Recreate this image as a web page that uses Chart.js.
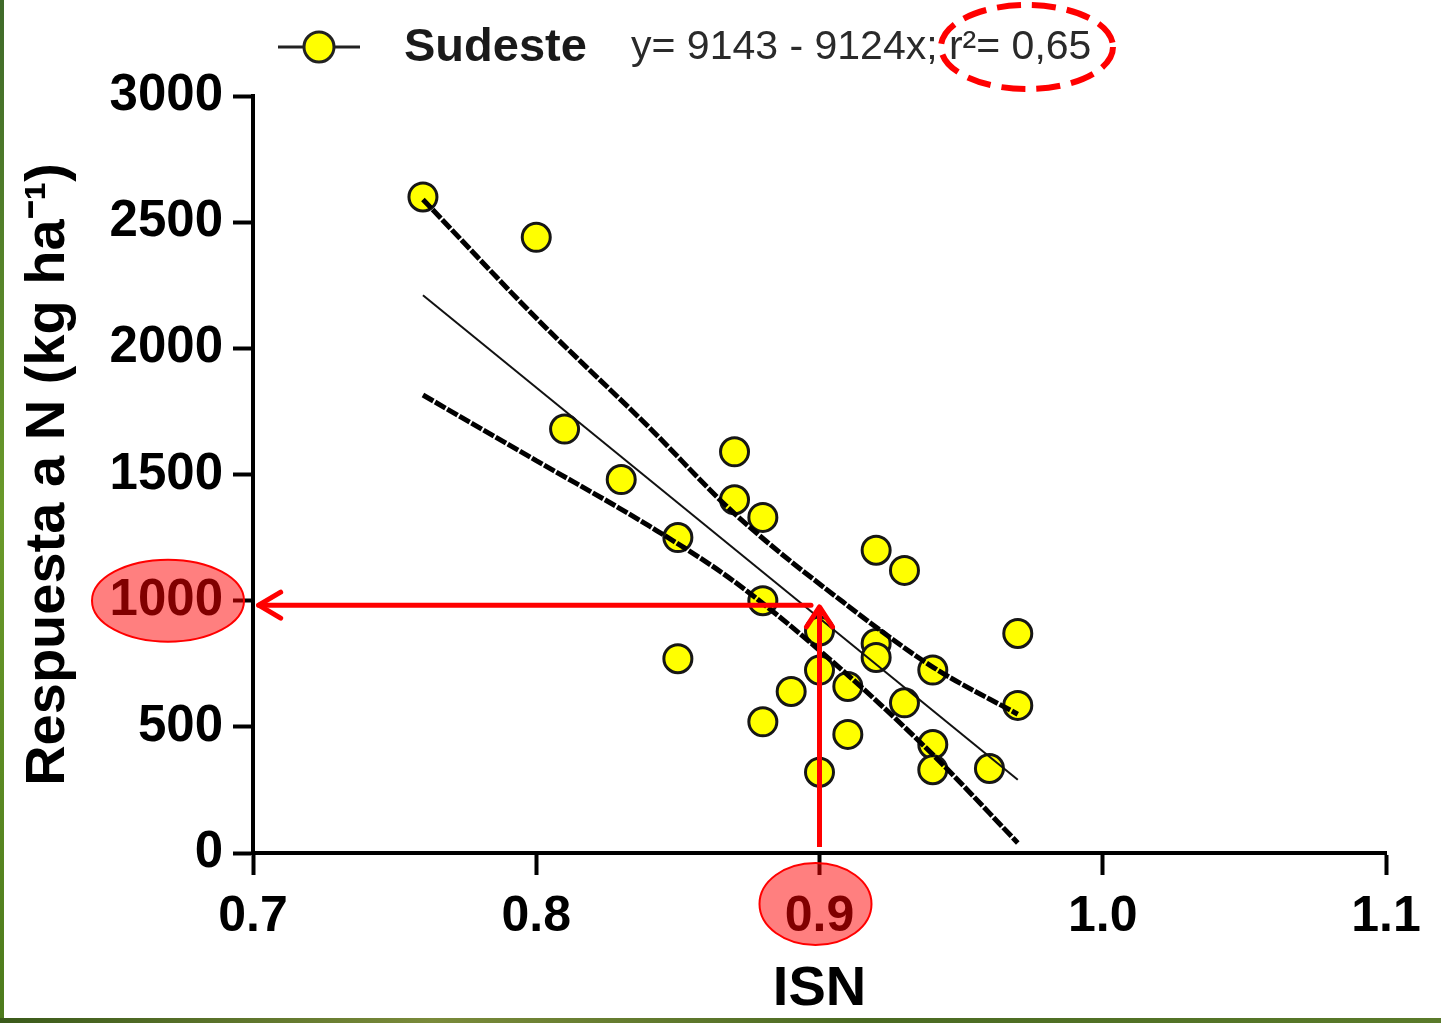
<!DOCTYPE html>
<html><head><meta charset="utf-8">
<script src="https://cdn.jsdelivr.net/npm/chart.js@4"></script>
<style>html,body{margin:0;padding:0;background:#fff;overflow:hidden}</style></head>
<body><canvas id="c" width="1441" height="1023"></canvas>
<script>
// ---- data ----
const isn = [0.76,0.80,0.81,0.83,0.85,0.85,0.87,0.87,0.88,0.88,0.88,0.89,0.90,0.90,0.90,0.91,0.91,0.92,0.92,0.92,0.93,0.93,0.94,0.94,0.94,0.96,0.97,0.97];
const respuesta = [2600,2440,1680,1480,1250,770,1590,1400,1330,1000,520,640,880,725,320,660,470,1200,830,775,1120,595,725,430,330,335,870,585];
const fitX = [0.76, 0.97];
const fitY = [2210, 290];
const bandX = [0.76,0.80,0.84,0.87,0.91,0.94,0.97];
const bandUpper = [2590,2120,1685,1345,980,737,550];
const bandLower = [1815,1555,1295,1075,705,390,40];
const xTicks = [0.7,0.8,0.9,1.0,1.1];
const yTicks = [0,500,1000,1500,2000,2500,3000];
const seriesName = 'Sudeste';
const equation = 'y= 9143 - 9124x; r\u00B2= 0,65';
const xTitle = 'ISN';
const yTitle = 'Respuesta a N (kg ha\u207B\u00B9)';
// red annotation (values in data units)
const markX = 0.9, markY = 1000;
const arrowH = {x0:0.897, x1:0.702, y:982};
const arrowV = {x:0.9, y0:24, y1:975};

const FONT = '"Liberation Sans", Arial, sans-serif';
const pts = isn.map((x,i)=>({x, y:respuesta[i]}));
const toXY = (xs, ys) => xs.map((x,i)=>({x, y:ys[i]}));

const decor = {
  id:'decor',
  beforeDraw(chart){
    const ctx = chart.ctx;
    ctx.save();
    ctx.fillStyle = '#fff';
    ctx.fillRect(0,0,chart.width,chart.height);
    const g = ctx.createLinearGradient(0,0,0,chart.height);
    g.addColorStop(0,'#3f6a2a'); g.addColorStop(0.5,'#6a9a2a'); g.addColorStop(1,'#4c7a1c');
    ctx.fillStyle = g;
    ctx.fillRect(0,0,4,chart.height);
    const g2 = ctx.createLinearGradient(0,0,chart.width,0);
    g2.addColorStop(0,'#3a5a1a'); g2.addColorStop(0.3,'#7a8a3a'); g2.addColorStop(0.6,'#4a6a22'); g2.addColorStop(1,'#5a7a2a');
    ctx.fillStyle = g2;
    ctx.fillRect(0,chart.height-5,chart.width,5);
    ctx.restore();
  },
  afterDraw(chart){
    const ctx = chart.ctx, xs = chart.scales.x, ys = chart.scales.y;
    ctx.save();
    // legend
    const ly = 47;
    ctx.strokeStyle = '#222'; ctx.lineWidth = 3;
    ctx.beginPath(); ctx.moveTo(278,ly); ctx.lineTo(360,ly); ctx.stroke();
    ctx.beginPath(); ctx.arc(319,ly,15,0,Math.PI*2);
    ctx.fillStyle = '#ffff00'; ctx.fill(); ctx.lineWidth = 3; ctx.stroke();
    ctx.fillStyle = '#1a1a1a'; ctx.textBaseline = 'middle'; ctx.textAlign = 'left';
    ctx.font = 'bold 47px ' + FONT;
    ctx.fillText(seriesName, 404, ly+1);
    ctx.fillStyle = '#2a2a2a';
    ctx.font = '41px ' + FONT;
    ctx.fillText(equation, 631, ly+1);
    // dashed ellipse around r2
    ctx.strokeStyle = '#ff0000'; ctx.lineWidth = 6; ctx.setLineDash([24,11]);
    ctx.beginPath(); ctx.ellipse(1027,47,86,42,0,0,Math.PI*2); ctx.stroke();
    ctx.setLineDash([]);
    // highlighted tick labels
    const ey = ys.getPixelForValue(markY);
    ctx.fillStyle = 'rgba(255,0,0,0.5)'; ctx.strokeStyle = '#ff0000'; ctx.lineWidth = 2;
    ctx.beginPath(); ctx.ellipse(xs.left-85, ey, 76, 41, 0, 0, Math.PI*2); ctx.fill(); ctx.stroke();
    const ex = xs.getPixelForValue(markX);
    ctx.beginPath(); ctx.ellipse(ex-4, ys.bottom+51, 56, 41, 0, 0, Math.PI*2); ctx.fill(); ctx.stroke();
    // arrows
    ctx.strokeStyle = '#ff0000'; ctx.lineWidth = 5; ctx.lineCap = 'round'; ctx.lineJoin = 'round';
    const hx0 = xs.getPixelForValue(arrowH.x0), hx1 = xs.getPixelForValue(arrowH.x1), hy = ys.getPixelForValue(arrowH.y);
    ctx.beginPath(); ctx.moveTo(hx0,hy); ctx.lineTo(hx1,hy); ctx.stroke();
    ctx.beginPath(); ctx.moveTo(hx1+22,hy-13); ctx.lineTo(hx1,hy); ctx.lineTo(hx1+22,hy+13); ctx.stroke();
    const vx = xs.getPixelForValue(arrowV.x), vy0 = ys.getPixelForValue(arrowV.y0), vy1 = ys.getPixelForValue(arrowV.y1);
    ctx.lineCap = 'butt';
    ctx.beginPath(); ctx.moveTo(vx,vy0); ctx.lineTo(vx,vy1); ctx.stroke();
    ctx.lineCap = 'round';
    ctx.beginPath(); ctx.moveTo(vx-13,vy1+20); ctx.lineTo(vx,vy1); ctx.lineTo(vx+13,vy1+20); ctx.stroke();
    ctx.restore();
  }
};

new Chart(document.getElementById('c'), {
  type:'scatter',
  data:{datasets:[
    {label:seriesName, data:pts, order:2, pointRadius:14, pointHoverRadius:14,
     backgroundColor:'#ffff00', borderColor:'#161616', borderWidth:3, showLine:false},
    {label:'fit', data:toXY(fitX,fitY), order:1, showLine:true, pointRadius:0,
     borderColor:'#111', borderWidth:2, fill:false},
    {label:'upper', data:toXY(bandX,bandUpper), order:1, showLine:true, pointRadius:0,
     borderColor:'#000', borderWidth:5, borderDash:[12,2], tension:0.4, cubicInterpolationMode:'monotone', fill:false},
    {label:'lower', data:toXY(bandX,bandLower), order:1, showLine:true, pointRadius:0,
     borderColor:'#000', borderWidth:5, borderDash:[12,2], tension:0.4, cubicInterpolationMode:'monotone', fill:false}
  ]},
  options:{
    responsive:false, animation:false, devicePixelRatio:1,
    layout:{padding:{top:96,right:55,left:0,bottom:0}},
    plugins:{legend:{display:false}, tooltip:{enabled:false}},
    scales:{
      x:{type:'linear', min:0.7, max:1.1,
        afterBuildTicks:s=>{s.ticks = xTicks.map(v=>({value:v}));},
        afterFit:s=>{s.height = 170;},
        grid:{drawOnChartArea:false, drawTicks:true, tickLength:22, tickWidth:4, tickColor:'#000'},
        border:{display:true, width:4, color:'#000'},
        ticks:{color:'#000', padding:12, maxRotation:0, font:{family:FONT, size:50, weight:'bold'},
          callback:v=>Number(v).toFixed(1)},
        title:{display:true, text:xTitle, color:'#000', font:{family:FONT, size:56, weight:'bold', lineHeight:1.2}, padding:{top:0,bottom:0}}
      },
      y:{type:'linear', min:0, max:3000,
        afterBuildTicks:s=>{s.ticks = yTicks.map(v=>({value:v}));},
        afterFit:s=>{s.width = 253;},
        grid:{drawOnChartArea:false, drawTicks:true, tickLength:20, tickWidth:4, tickColor:'#000'},
        border:{display:true, width:4, color:'#000'},
        ticks:{color:'#000', padding:10, font:{family:FONT, size:51, weight:'bold'},
          callback:v=>String(v)},
        title:{display:true, text:yTitle, color:'#000', font:{family:FONT, size:56, weight:'bold', lineHeight:1.2}, padding:{top:15,bottom:0}}
      }
    }
  },
  plugins:[decor]
});
</script></body></html>
